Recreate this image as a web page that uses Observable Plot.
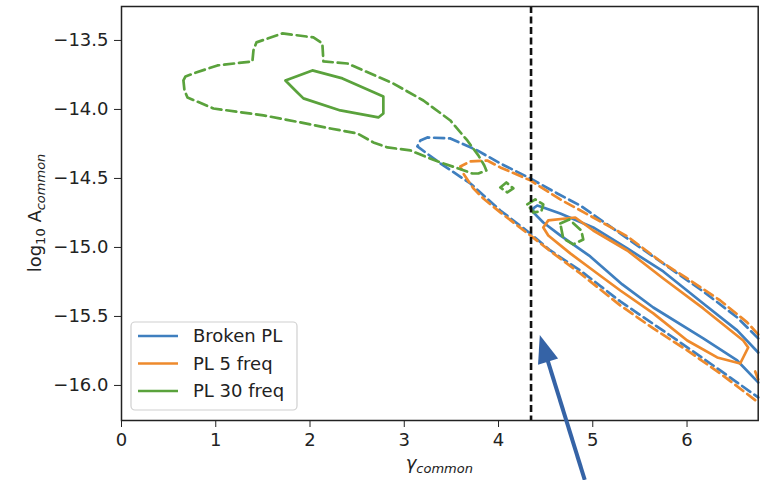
<!DOCTYPE html>
<html><head><meta charset="utf-8">
<script src="https://cdn.jsdelivr.net/npm/d3@7"></script>
<script src="https://cdn.jsdelivr.net/npm/@observablehq/plot@0.6"></script>
<style>
body{margin:0;background:#fff;}
#chart{width:763px;height:480px;}
</style></head><body><div id="chart"></div>
<script>
const seriesNames = ["Broken PL", "PL 5 freq", "PL 30 freq"];
const seriesColors = ["#3f7fbf", "#ee8a2c", "#5aa23c"];
const xTicks = [0, 1, 2, 3, 4, 5, 6];
const yTicks = [-16.0, -15.5, -15.0, -14.5, -14.0, -13.5];
const xDomain = [0, 6.755];
const yDomain = [-16.254, -13.254];
const gammaRef = 4.345;
const arrowFrom = [4.920, -16.688];
const arrowTo = [4.443, -15.638];

// Broken PL contours
const brokenOuter = [[6.755,-15.659],[6.532,-15.507],[6.172,-15.319],[5.822,-15.152],[5.366,-14.935],[4.867,-14.696],[4.624,-14.609],[4.337,-14.500],[4.019,-14.391],[3.775,-14.297],[3.489,-14.210],[3.245,-14.203],[3.171,-14.225],[3.139,-14.268],[3.383,-14.391],[3.701,-14.536],[4.019,-14.732],[4.337,-14.899],[4.549,-15.022],[4.867,-15.167],[5.292,-15.391],[5.822,-15.638],[6.352,-15.891],[6.755,-16.087]];
const brokenInner = [[6.755,-15.761],[6.532,-15.601],[6.172,-15.406],[5.748,-15.174],[5.366,-15.007],[5.005,-14.855],[4.655,-14.754],[4.475,-14.710],[4.411,-14.696],[4.369,-14.717],[4.369,-14.746],[4.475,-14.819],[4.655,-14.913],[4.973,-15.065],[5.313,-15.268],[5.642,-15.435],[6.172,-15.659],[6.532,-15.819],[6.755,-15.978]];

// PL 5 freq contours
const pl5Outer = [[6.755,-15.630],[6.638,-15.543],[6.352,-15.384],[6.002,-15.225],[5.737,-15.109],[5.366,-14.920],[5.005,-14.783],[4.655,-14.652],[4.337,-14.514],[4.019,-14.420],[3.881,-14.370],[3.701,-14.377],[3.595,-14.413],[3.627,-14.464],[3.733,-14.572],[3.839,-14.645],[4.019,-14.746],[4.337,-14.913],[4.581,-15.043],[4.867,-15.188],[5.292,-15.420],[5.642,-15.587],[6.002,-15.746],[6.352,-15.913],[6.755,-16.123]];
const pl5Edge = [[6.723,-15.899],[6.755,-15.957]];
const pl5Inner = [[4.475,-14.855],[4.528,-14.804],[4.814,-14.783],[5.005,-14.877],[5.366,-15.022],[5.748,-15.225],[6.172,-15.442],[6.596,-15.674],[6.649,-15.725],[6.564,-15.841],[6.320,-15.797],[6.002,-15.674],[5.642,-15.478],[5.292,-15.312],[5.005,-15.167],[4.761,-15.043],[4.528,-14.913],[4.475,-14.855]];

// PL 30 freq contours
const pl30Outer = [[0.657,-13.790],[0.679,-13.761],[0.764,-13.739],[1.018,-13.681],[1.389,-13.652],[1.400,-13.572],[1.432,-13.514],[1.707,-13.449],[2.036,-13.478],[2.131,-13.522],[2.142,-13.652],[2.397,-13.667],[2.884,-13.812],[3.203,-13.935],[3.489,-14.080],[3.669,-14.225],[3.786,-14.333],[3.849,-14.406],[3.871,-14.442],[3.786,-14.464],[3.722,-14.464],[3.574,-14.428],[3.415,-14.391],[3.245,-14.348],[3.065,-14.297],[2.821,-14.275],[2.672,-14.239],[2.503,-14.174],[2.216,-14.138],[1.898,-14.094],[1.506,-14.043],[0.976,-13.993],[0.700,-13.913],[0.668,-13.862],[0.657,-13.790]];
const pl30IslandA = [[4.019,-14.565],[4.083,-14.529],[4.157,-14.572],[4.093,-14.601],[4.019,-14.565]];
const pl30IslandB = [[4.305,-14.688],[4.390,-14.652],[4.475,-14.688],[4.454,-14.739],[4.369,-14.746],[4.305,-14.688]];
const pl30IslandC = [[4.655,-14.826],[4.751,-14.797],[4.878,-14.877],[4.899,-14.942],[4.793,-14.978],[4.687,-14.935],[4.655,-14.826]];
const pl30Inner = [[1.739,-13.790],[2.025,-13.717],[2.344,-13.775],[2.778,-13.906],[2.778,-14.029],[2.725,-14.058],[2.322,-14.007],[1.930,-13.920],[1.866,-13.877],[1.739,-13.790]];

const contours = [
  {s: 0, dashed: true, pts: brokenOuter},
  {s: 0, dashed: false, pts: brokenInner},
  {s: 1, dashed: true, pts: pl5Outer},
  {s: 1, dashed: true, pts: pl5Edge},
  {s: 1, dashed: false, pts: pl5Inner},
  {s: 2, dashed: true, pts: pl30Outer},
  {s: 2, dashed: true, pts: pl30IslandA},
  {s: 2, dashed: true, pts: pl30IslandB},
  {s: 2, dashed: true, pts: pl30IslandC},
  {s: 2, dashed: false, pts: pl30Inner}
];
const rows = contours.flatMap((c, i) => c.pts.map(([x, y]) => ({id: i, series: seriesNames[c.s], dashed: c.dashed, x, y})));

const FONT = "DejaVu Sans";
const lineMarks = [];
seriesNames.forEach(name => {
  lineMarks.push(Plot.line(rows.filter(r => r.series === name && r.dashed), {x: "x", y: "y", z: "id", stroke: "series", strokeWidth: 2.7, strokeDasharray: "10,5", strokeLinejoin: "round"}));
  lineMarks.push(Plot.line(rows.filter(r => r.series === name && !r.dashed), {x: "x", y: "y", z: "id", stroke: "series", strokeWidth: 2.7, strokeLinejoin: "round"}));
});

const plot = Plot.plot({
  width: 763, height: 480,
  marginLeft: 121, marginRight: 5.3, marginTop: 6, marginBottom: 60,
  style: {fontFamily: FONT, fontSize: "18px", color: "#222", background: "#fff", overflow: "visible"},
  x: {domain: xDomain, ticks: xTicks, tickSize: 7, tickPadding: 6, tickFormat: d3.format("d"), label: null},
  y: {domain: yDomain, ticks: yTicks, tickSize: 7, tickPadding: 6, tickFormat: d3.format(".1f"), label: null},
  color: {domain: seriesNames, range: seriesColors},
  marks: [
    ...lineMarks,
    Plot.ruleX([gammaRef], {stroke: "#111", strokeWidth: 2.6, strokeDasharray: "7,3.5"}),
    Plot.frame({stroke: "#222", strokeWidth: 1.5})
  ]
});
document.getElementById("chart").appendChild(plot);

const svg = d3.select(plot);
const sx = plot.scale("x").apply, sy = plot.scale("y").apply;

// arrow annotation
{
  const ax0 = sx(arrowFrom[0]), ay0 = sy(arrowFrom[1]);
  const ax1 = sx(arrowTo[0]), ay1 = sy(arrowTo[1]);
  const dx = ax1 - ax0, dy = ay1 - ay0, L = Math.hypot(dx, dy);
  const ux = dx / L, uy = dy / L, nx = -uy, ny = ux;
  const hl = 28, hw = 10.5;
  const bx = ax1 - ux * hl, by = ay1 - uy * hl;
  const col = "#3563a6";
  svg.append("line").attr("x1", ax0).attr("y1", ay0).attr("x2", bx + ux * 3).attr("y2", by + uy * 3)
    .attr("stroke", col).attr("stroke-width", 4);
  svg.append("path").attr("d", `M${ax1},${ay1}L${bx + nx * hw},${by + ny * hw}L${bx - nx * hw},${by - ny * hw}Z`)
    .attr("fill", col);
}

// axis labels
{
  const cx = (sx(xDomain[0]) + sx(xDomain[1])) / 2;
  const t = svg.append("text").attr("x", cx).attr("y", 469).attr("text-anchor", "middle")
    .attr("font-family", FONT).attr("font-size", 18).attr("fill", "#222");
  t.append("tspan").attr("font-style", "italic").text("γ");
  t.append("tspan").attr("font-style", "italic").attr("font-size", 13).attr("dy", 4).text("common");

  const cy = (sy(yDomain[0]) + sy(yDomain[1])) / 2;
  const u = svg.append("text").attr("transform", `translate(41,${cy}) rotate(-90)`).attr("text-anchor", "middle")
    .attr("font-family", FONT).attr("font-size", 18).attr("fill", "#222");
  u.append("tspan").text("log");
  u.append("tspan").attr("font-size", 13).attr("dy", 4).text("10");
  u.append("tspan").attr("dy", -4).text(" A");
  u.append("tspan").attr("font-style", "italic").attr("font-size", 13).attr("dy", 4).text("common");
}

// legend
{
  const g = svg.append("g").attr("font-family", FONT).attr("font-size", 18).attr("fill", "#222").attr("text-anchor", "start");
  g.append("rect").attr("x", 131).attr("y", 322).attr("width", 166).attr("height", 88).attr("rx", 4)
    .attr("fill", "#fff").attr("fill-opacity", 0.85).attr("stroke", "#d0d0d0").attr("stroke-width", 1.2);
  seriesNames.forEach((name, i) => {
    const yy = 336 + i * 27.5;
    g.append("line").attr("x1", 138).attr("x2", 178).attr("y1", yy).attr("y2", yy)
      .attr("stroke", seriesColors[i]).attr("stroke-width", 2.7);
    g.append("text").attr("x", 193).attr("y", yy).attr("dy", "0.36em").attr("text-anchor", "start").text(name);
  });
}
</script></body></html>
